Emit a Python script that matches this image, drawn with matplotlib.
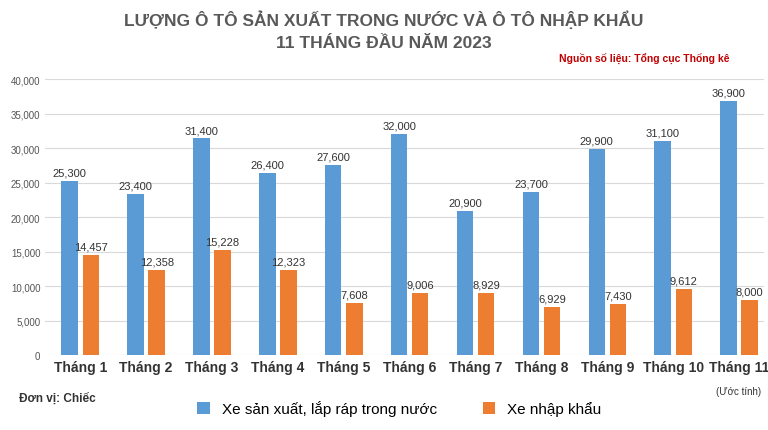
import matplotlib.pyplot as plt
import numpy as np

plt.rcParams["font.family"] = ["Liberation Sans", "DejaVu Sans"]

months = ["Tháng 1", "Tháng 2", "Tháng 3", "Tháng 4", "Tháng 5", "Tháng 6",
          "Tháng 7", "Tháng 8", "Tháng 9", "Tháng 10", "Tháng 11"]
domestic = [25300, 23400, 31400, 26400, 27600, 32000, 20900, 23700, 29900, 31100, 36900]
imported = [14457, 12358, 15228, 12323, 7608, 9006, 8929, 6929, 7430, 9612, 8000]

BLUE = "#5B9BD5"
ORANGE = "#ED7D31"

fig = plt.figure(figsize=(7.68, 4.31), dpi=100)
ax = fig.add_axes([0.059, 0.174, 0.936, 0.64])

x = np.arange(len(months))
w = 0.25
ax.bar(x - 0.16, domestic, w, color=BLUE, label="Xe sản xuất, lắp ráp trong nước", zorder=3)
ax.bar(x + 0.16, imported, w, color=ORANGE, label="Xe nhập khẩu", zorder=3)

for xi, v in zip(x, domestic):
    ax.text(xi - 0.16, v + 500, f"{v:,}", ha="center", va="bottom", fontsize=8, color="#333333")
for xi, v in zip(x, imported):
    ax.text(xi + 0.16, v + 500, f"{v:,}", ha="center", va="bottom", fontsize=8, color="#333333")

ax.set_xlim(-0.53, 10.38)
ax.set_ylim(0, 40000)
ax.set_yticks(range(0, 40001, 5000))
ax.set_yticklabels([f"{t:,}" for t in range(0, 40001, 5000)], fontsize=7, color="#555555")
ax.set_xticks(x)
ax.set_xticklabels(months, fontsize=10, fontweight="bold", color="#333333")
ax.tick_params(length=0)
ax.grid(axis="y", color="#D9D9D9", linewidth=0.8, zorder=0)
for s in ax.spines.values():
    s.set_visible(False)

fig.text(0.5, 0.955, "LƯỢNG Ô TÔ SẢN XUẤT TRONG NƯỚC VÀ Ô TÔ NHẬP KHẨU",
         ha="center", va="center", fontsize=12.5, fontweight="bold", color="#595959")
fig.text(0.5, 0.9, "11 THÁNG ĐẦU NĂM 2023",
         ha="center", va="center", fontsize=12.5, fontweight="bold", color="#595959")
fig.text(0.95, 0.865, "Nguồn số liệu: Tổng cục Thống kê", ha="right", va="center",
         fontsize=7.5, fontweight="bold", color="#C00000")
fig.text(0.025, 0.075, "Đơn vị: Chiếc", ha="left", va="center", fontsize=8.5,
         fontweight="bold", color="#333333")
fig.text(0.962, 0.09, "(Ước tính)", ha="center", va="center", fontsize=7, color="#333333")

fig.legend(loc="center", bbox_to_anchor=(0.52, 0.05), ncol=2, frameon=False,
           fontsize=11, handlelength=0.8, handleheight=0.8, columnspacing=3)

fig.savefig("out.png", dpi=100)
